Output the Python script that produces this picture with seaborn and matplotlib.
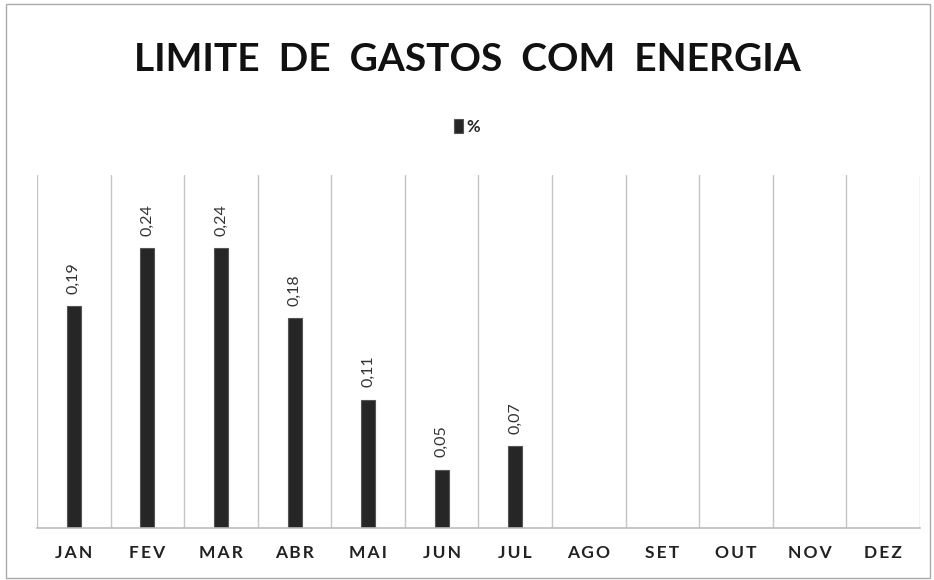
import matplotlib
matplotlib.use("Agg")
import matplotlib.pyplot as plt
import numpy as np
import pandas as pd
import seaborn as sns
from matplotlib.patches import Rectangle

# Data (AGO–DEZ have no value yet)
months = ["JAN", "FEV", "MAR", "ABR", "MAI", "JUN",
          "JUL", "AGO", "SET", "OUT", "NOV", "DEZ"]
values = [0.19, 0.24, 0.24, 0.18, 0.11, 0.05,
          0.07, None, None, None, None, None]
series_name = "%"
title = "LIMITE DE GASTOS COM ENERGIA"

_BAR_COLOR = "#262626"
_GRID_COLOR = "#c4c4c4"

sns.set_style("white")
plt.rcParams["font.family"] = ["Lato", "DejaVu Sans"]

df = pd.DataFrame({"month": months, "value": [np.nan if v is None else v for v in values]})

fig = plt.figure(figsize=(9.34, 5.8), dpi=100)
ax = fig.add_axes([0.0396, 0.0897, 0.9454, 0.6083])

sns.barplot(
    data=df.dropna(),
    x="month",
    y="value",
    order=months,
    color=_BAR_COLOR,
    width=0.19,
    saturation=1,
    edgecolor="#555555",
    linewidth=0.8,
    label=series_name,
    ax=ax,
)
if ax.get_legend() is not None:
    ax.get_legend().remove()

present = df["value"].dropna()
ax.bar_label(
    ax.containers[0],
    labels=[f"{v:.2f}".replace(".", ",") for v in present],
    rotation=90,
    padding=9,
    fontsize=11.5,
    color="#333333",
)

ax.set_xlim(-0.5, len(months) - 0.5)
ax.set_ylim(0, 0.3025)
ax.set_yticks([])
ax.set_xlabel("")
ax.set_ylabel("")

# category separators as in the spreadsheet chart
ax.set_xticks(np.arange(-0.5, len(months), 1), minor=True)
ax.grid(which="minor", axis="x", color=_GRID_COLOR, linewidth=1.0)
ax.tick_params(axis="x", which="both", length=0)
ax.set_xticklabels(["\u2009".join(m) for m in months], fontsize=12.5,
                   fontweight="bold", color="#222222")
ax.tick_params(axis="x", pad=12)

for side in ["top", "left", "right"]:
    ax.spines[side].set_visible(False)
ax.spines["bottom"].set_color("#bbbbbb")
ax.spines["bottom"].set_linewidth(1.2)

fig.text(0.5, 0.897, title.replace(" ", "  "), ha="center", va="center",
         fontsize=28, fontweight="bold", color="#111111")

handles, labels = ax.get_legend_handles_labels()
fig.legend(handles, labels, loc="center", bbox_to_anchor=(0.5, 0.781),
           frameon=False, handlelength=0.55, handleheight=0.9,
           handletextpad=0.25, prop={"weight": "bold", "size": 12})

# light frame around the whole chart
fig.patches.append(Rectangle((0.006, 0.003), 0.99, 0.99, transform=fig.transFigure,
                             fill=False, edgecolor="#aaaaaa", linewidth=1.0))

fig.savefig("out.png", dpi=100)
